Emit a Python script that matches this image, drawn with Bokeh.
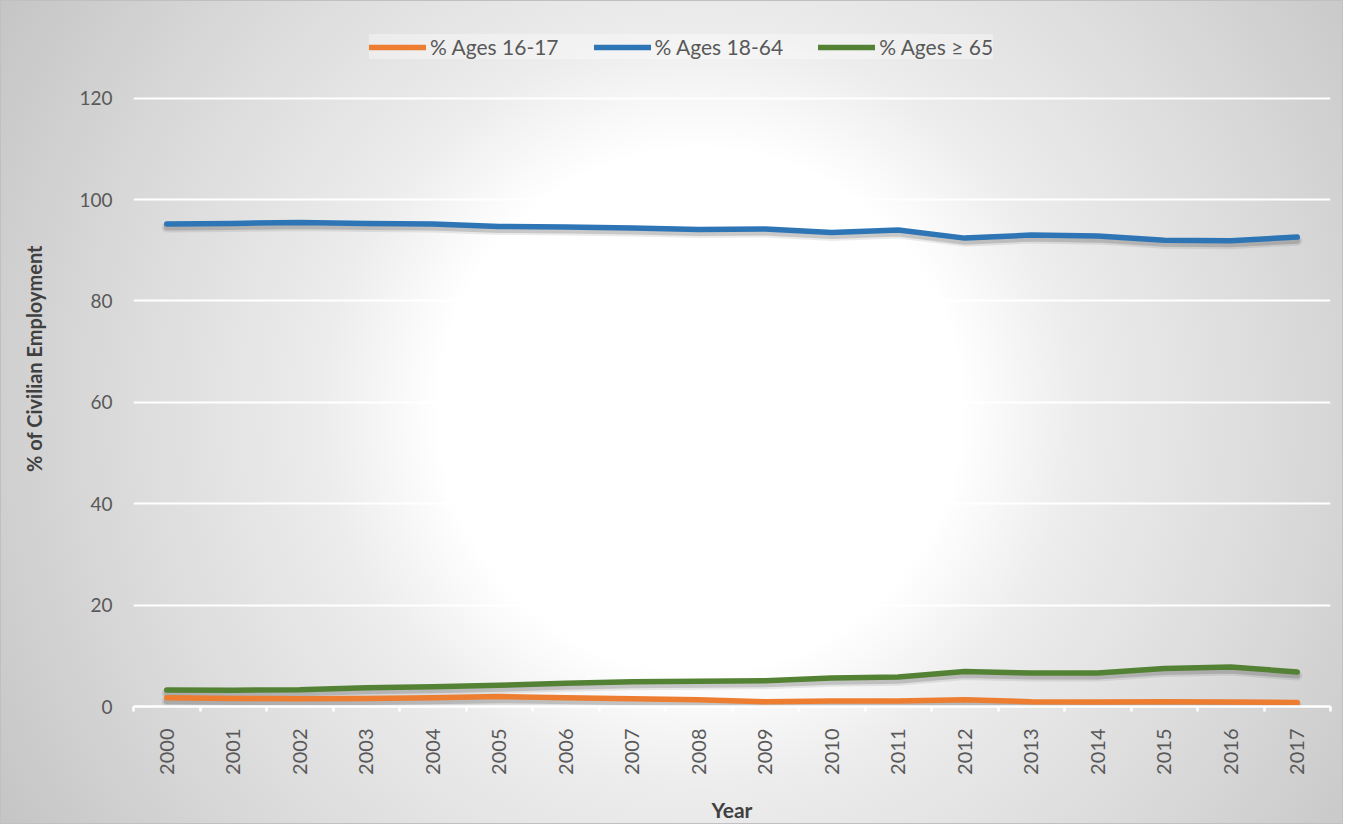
from bokeh.plotting import figure
from bokeh.models import Range1d, FixedTicker, Legend, LegendItem
from bokeh.embed import file_html
from bokeh.resources import INLINE
import math

years = [2000, 2001, 2002, 2003, 2004, 2005, 2006, 2007, 2008,
         2009, 2010, 2011, 2012, 2013, 2014, 2015, 2016, 2017]
ages_16_17 = [1.75, 1.6, 1.55, 1.6, 1.75, 1.95, 1.75, 1.55, 1.35,
              0.95, 1.1, 1.1, 1.35, 0.95, 0.9, 0.95, 0.9, 0.8]
ages_18_64 = [95.2, 95.3, 95.5, 95.3, 95.2, 94.7, 94.6, 94.4, 94.1,
              94.2, 93.5, 94.0, 92.4, 93.0, 92.8, 92.0, 91.9, 92.6]
ages_65_up = [3.25, 3.2, 3.3, 3.7, 3.9, 4.2, 4.6, 4.9, 5.0,
              5.1, 5.6, 5.8, 6.9, 6.6, 6.6, 7.5, 7.8, 6.8]
y_ticks = [0, 20, 40, 60, 80, 100, 120]
series_names = ["% Ages 16-17", "% Ages 18-64", "% Ages \u2265 65"]
colors = ["#ED7D31", "#2E75B6", "#548235"]

FONT = "Lato"

p = figure(width=1343, height=824, output_backend="svg", toolbar_location=None,
           x_range=Range1d(1999.5, 2017.5), y_range=Range1d(0, 137.3),
           min_border_left=133, min_border_right=13, min_border_top=10,
           min_border_bottom=118)
p.background_fill_color = None
p.border_fill_color = None
p.outline_line_color = None
p.styles = {
    "background": "radial-gradient(circle at 700px 410px, #ffffff 0px, #ffffff 260px, "
                  "#ececec 380px, #dadada 590px, #c4c4c4 820px)",
    "box-shadow": "inset 0 0 0 1px #c0c0c0",
}

# grid
p.xgrid.visible = False
p.ygrid.ticker = FixedTicker(ticks=y_ticks)
p.ygrid.grid_line_color = "white"
p.ygrid.grid_line_width = 2

# y axis
p.yaxis.ticker = FixedTicker(ticks=y_ticks)
p.yaxis.axis_line_color = None
p.yaxis.major_tick_line_color = None
p.yaxis.minor_tick_line_color = None
p.yaxis.major_label_standoff = 15
p.yaxis.major_label_text_font = FONT
p.yaxis.major_label_text_font_size = "19px"
p.yaxis.major_label_text_color = "#595959"
p.yaxis.axis_label = "% of Civilian Employment"
p.yaxis.axis_label_text_font = FONT
p.yaxis.axis_label_text_font_style = "bold"
p.yaxis.axis_label_text_font_size = "20px"
p.yaxis.axis_label_text_color = "#404040"
p.yaxis.axis_label_standoff = 30

# x axis
bounds = [y - 0.5 for y in years] + [years[-1] + 0.5]
p.xaxis.ticker = FixedTicker(ticks=years, minor_ticks=bounds)
p.xaxis.axis_line_color = "white"
p.xaxis.axis_line_width = 2.5
p.xaxis.major_tick_line_color = None
p.xaxis.major_tick_out = 0
p.xaxis.major_tick_in = 0
p.xaxis.minor_tick_line_color = "white"
p.xaxis.minor_tick_line_width = 2.5
p.xaxis.minor_tick_out = 5
p.xaxis.minor_tick_in = 0
p.xaxis.major_label_orientation = math.pi / 2
p.xaxis.major_label_standoff = 17
p.xaxis.major_label_text_font = FONT
p.xaxis.major_label_text_font_size = "20px"
p.xaxis.major_label_text_color = "#595959"
p.xaxis.axis_label = "Year"
p.xaxis.axis_label_text_font = FONT
p.xaxis.axis_label_text_font_style = "bold"
p.xaxis.axis_label_text_font_size = "21px"
p.xaxis.axis_label_text_color = "#404040"
p.xaxis.axis_label_standoff = 19

# lines with soft shadow
data = [ages_16_17, ages_18_64, ages_65_up]
items = []
for vals in data:
    shadow = [v - 0.7 for v in vals]
    p.line(years, shadow, line_color="#000000", line_alpha=0.08, line_width=10,
           line_cap="round", line_join="round")
    p.line(years, shadow, line_color="#000000", line_alpha=0.15, line_width=6,
           line_cap="round", line_join="round")
for vals, name, col in zip(data, series_names, colors):
    r = p.line(years, vals, line_color=col, line_width=5.5,
               line_cap="round", line_join="round")
    items.append(LegendItem(label=name, renderers=[r]))

legend = Legend(items=items, orientation="horizontal", location=(236, 647))
legend.glyph_width = 57
legend.glyph_height = 20
legend.label_height = 20
legend.label_standoff = 4
legend.spacing = 35
legend.padding = 11
legend.label_text_font = FONT
legend.label_text_font_size = "21px"
legend.label_text_color = "#595959"
legend.background_fill_color = "white"
legend.background_fill_alpha = 0.35
legend.border_line_color = None
p.add_layout(legend)

open("out.html", "w").write(file_html(p, INLINE))
